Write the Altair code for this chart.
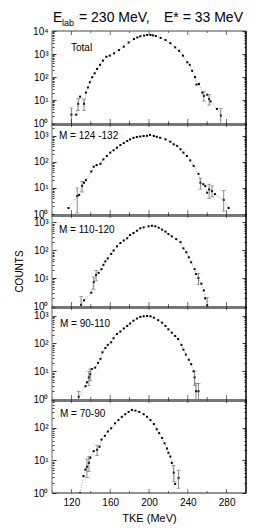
import altair as alt
import pandas as pd

FONT = "Liberation Sans"
W = 194
HEIGHTS = [92, 91, 92, 93, 94]
Y_MAX = [10000, 3160, 2000, 2240, 750]
GAP = 3  # separator band below each panel

DECADES = [1, 10, 100, 1000, 10000]
DECADE_LABELS = ["10\u2070", "10\u00b9", "10\u00b2", "10\u00b3", "10\u2074"]
MINOR_MULT = [2, 3, 4, 5, 6, 7, 8, 9]
X_MAJOR = [120, 160, 200, 240, 280]
X_MINOR = [100, 140, 180, 220, 260, 300]
X_DOMAIN = [100, 300]

PANEL_LABELS = ["Total", "M = 124 -132", "M = 110-120", "M = 90-110", "M = 70-90"]
LABEL_X = [19, 7, 7, 8, 8]
LABEL_Y = [20, 16, 19, 21, 18]

# ---- data (TKE in MeV, counts) ----
tke_total = [120, 125, 127, 129, 133, 135, 137, 139, 141.5, 144, 146.5, 149.5, 152.5, 156, 159.5,
             164, 169, 174, 179, 184.5, 188, 191, 195, 198, 201.5, 204, 207, 212, 217, 222, 227,
             231, 235, 239.5, 242, 244.5, 247.5, 249, 251.5, 255, 256.5, 260, 262, 263.5, 270, 274]
cnt_total = [2.3, 2.3, 6.8, 14, 6.8, 21, 35, 59, 98, 145, 224, 339, 513, 759, 851,
             1070, 1480, 2090, 3160, 4470, 5250, 5890, 6310, 6760, 6760, 6460, 6030, 5010, 4070, 2950, 1950,
             1380, 851, 437, 339, 186, 100, 47, 50, 21, 15, 17, 11, 8.7, 4.1, 2.1]
err_total_tke = [120, 127, 133, 256.5, 262, 274]
err_total_lo = [0.5, 3.5, 3.5, 9, 6, 0.5]
err_total_hi = [4.5, 12, 11, 24, 17, 4.2]

tke_m124 = [117, 126, 128, 131, 133, 135, 140.5, 143, 146, 150, 153, 156.5, 160, 163.5, 167,
            170.5, 174, 177.5, 180.5, 184, 187.5, 191, 194.5, 198, 201, 205, 208, 211.5, 217, 222,
            225.5, 229, 232.5, 235.5, 239, 242.5, 246, 251, 253, 256, 258, 260, 262, 265, 268, 277, 282]
cnt_m124 = [1.7, 4.9, 5.4, 12, 16, 20, 43, 66, 76, 85, 126, 170, 229, 282, 355,
            447, 537, 646, 741, 851, 912, 955, 1000, 1020, 1100, 1000, 933, 851, 741, 603,
            479, 417, 309, 229, 170, 115, 71, 35, 16, 14, 12, 6.6, 8.9, 7.6, 5.8, 3.5, 1.7]
err_m124_tke = [126, 131, 253, 262, 265, 277]
err_m124_lo = [1.1, 7, 9, 4, 4.5, 1.3]
err_m124_hi = [10, 18, 24, 14, 12, 8]

tke_m110 = [130, 133, 140.5, 143, 145.5, 148, 151, 153, 155, 157.5, 161, 163.5, 167, 170.5, 174,
            177.5, 180.5, 184, 187.5, 191, 194.5, 199.5, 203, 206.5, 210, 213.5, 217, 220, 223.5, 228,
            232.5, 235.5, 238.5, 241, 243.5, 247, 248.5, 251, 254, 256.5, 258, 260]
cnt_m110 = [1.1, 1.6, 3.0, 7.2, 13, 15.5, 21, 30, 40, 51, 74, 98, 138, 182, 224,
            269, 355, 417, 501, 617, 661, 724, 759, 724, 646, 550, 468, 380, 316, 251,
            195, 117, 85, 56, 37, 21, 14, 10, 6.3, 3.6, 1.9, 1.05]
err_m110_tke = [130, 143, 145.5, 251, 260]
err_m110_lo = [0.4, 4, 8, 6, 0.4]
err_m110_hi = [2.2, 11, 19, 15, 2]

tke_m90 = [127.5, 134.5, 136, 138, 139.5, 141, 144.5, 147.5, 150, 152, 155, 157.5, 161, 163.5, 167,
           170.5, 174, 177.5, 180.5, 184, 187.5, 191, 194.5, 198, 201.5, 205, 209.5, 213.5, 217, 220,
           223.5, 227, 230, 233.5, 235.5, 238, 241, 243.5, 246, 247, 248.5, 251]
cnt_m90 = [1.2, 2.9, 4.0, 6.0, 7.8, 12, 13.5, 20, 28, 48, 69, 89, 110, 155, 219,
           269, 347, 427, 525, 661, 794, 912, 955, 977, 955, 851, 692, 562, 427, 324,
           245, 186, 145, 89, 60, 40, 26, 18, 10, 6.0, 1.9, 1.9]
err_m90_tke = [127.5, 138, 139.5, 247, 248.5, 251]
err_m90_lo = [0.5, 3, 4.5, 3, 0.5, 0.5]
err_m90_hi = [1.9, 10, 12, 10, 3.6, 3.6]

tke_m70 = [129, 132.5, 134.5, 136, 138, 139.5, 143, 146.5, 149, 151, 154.5, 157.5, 161, 165, 168.5,
           172, 175.5, 179, 182.5, 186, 190, 194.5, 198, 201.5, 205, 208, 210.5, 213.5, 216, 218.5,
           220, 222, 223.5, 225.5, 227, 230.5]
cnt_m70 = [1.0, 3.3, 5.2, 6.3, 8.3, 12, 19, 21, 26, 43, 56, 76, 95, 135, 170,
           214, 257, 302, 347, 331, 302, 257, 214, 170, 129, 89, 68, 48, 33, 23,
           17, 13, 8.3, 4.2, 1.9, 2.9]
err_m70_tke = [136, 138, 146.5, 225.5, 230.5]
err_m70_lo = [3, 4.5, 14, 2.2, 1.4]
err_m70_hi = [11, 13, 29, 7, 5]

PANELS = [
    (tke_total, cnt_total, err_total_tke, err_total_lo, err_total_hi),
    (tke_m124, cnt_m124, err_m124_tke, err_m124_lo, err_m124_hi),
    (tke_m110, cnt_m110, err_m110_tke, err_m110_lo, err_m110_hi),
    (tke_m90, cnt_m90, err_m90_tke, err_m90_lo, err_m90_hi),
    (tke_m70, cnt_m70, err_m70_tke, err_m70_lo, err_m70_hi),
]

TITLE_PARTS = [
    ("E", 1, -9, 14),
    ("lab", 10, -5, 9),
    ("= 230 MeV,", 27, -9, 14),
    ("E* = 33 MeV", 112, -9, 14),
]

label_expr = ""
for d, lab in zip(DECADES, DECADE_LABELS):
    label_expr += f"datum.value == {d} ? '{lab}' : "
label_expr += "''"

y_tick_cond = {"condition": {"test": f"indexof({DECADES}, datum.value) >= 0", "value": 4}, "value": 2}
x_tick_df = pd.DataFrame({"v": X_MAJOR + X_MINOR, "len": [8] * len(X_MAJOR) + [4] * len(X_MINOR)})
one = pd.DataFrame({"a": [0]})


def frame_rule(color, width, **enc):
    return alt.Chart(one).mark_rule(color=color, strokeWidth=width).encode(**enc)


def make_panel(i):
    tke, cnt, etke, elo, ehi = PANELS[i]
    H = HEIGHTS[i]
    ymax = Y_MAX[i]
    first = i == 0
    last = i == len(PANELS) - 1
    ydec = [d for d in DECADES if d <= ymax]
    yall = sorted(ydec + [d * m for d in DECADES for m in MINOR_MULT if d * m <= ymax])

    xs = alt.Scale(domain=X_DOMAIN, nice=False, zero=False)
    ys = alt.Scale(type="log", domain=[1, ymax], nice=False)

    df = pd.DataFrame({"tke": tke, "cnt": cnt})
    edf = pd.DataFrame({"tke": etke, "lo": elo, "hi": ehi})
    cap_df = pd.DataFrame({"tke": etke + etke, "v": elo + ehi})

    x_lab = alt.Axis(orient="bottom", values=X_MAJOR, labels=last, ticks=False, domain=False,
                     grid=False, labelPadding=4, labelFontSize=10, labelColor="black",
                     title="TKE (MeV)" if last else None, titleFontSize=11,
                     titleFontWeight="normal", titlePadding=5, titleColor="black")
    y_lab = alt.Axis(orient="left", values=ydec, labelExpr=label_expr, ticks=False, domain=False,
                     grid=False, labelPadding=4, labelFontSize=10, labelColor="black",
                     title="COUNTS" if i == 2 else None, titleFontSize=10,
                     titleFontWeight="normal", titlePadding=8, titleY=H / 2 + 11,
                     titleColor="black")
    y_in_l = alt.Axis(orient="right", offset=-W, values=yall, labels=False, domain=False,
                      grid=False, title=None, tickSize=y_tick_cond, tickColor="black", tickWidth=0.8)
    y_in_r = alt.Axis(orient="left", offset=-W, values=yall, labels=False, domain=False,
                      grid=False, title=None, tickSize=y_tick_cond, tickColor="black", tickWidth=0.8)

    line = alt.Chart(df).mark_line(color="#8a8a8a", strokeWidth=0.8, strokeDash=[1, 1.5], clip=True).encode(
        x=alt.X("tke:Q", scale=xs, axis=x_lab),
        y=alt.Y("cnt:Q", scale=ys, axis=y_lab),
        order="tke:Q",
    )
    pts = alt.Chart(df).mark_square(color="black", size=4, opacity=1, clip=True).encode(
        x=alt.X("tke:Q", scale=xs),
        y=alt.Y("cnt:Q", scale=ys, axis=y_in_l),
    )
    rules = alt.Chart(edf).mark_rule(color="#555555", strokeWidth=0.7, clip=True).encode(
        x=alt.X("tke:Q", scale=xs),
        y=alt.Y("lo:Q", scale=ys, axis=y_in_r),
        y2="hi:Q",
    )
    caps = alt.Chart(cap_df).mark_tick(color="#555555", orient="horizontal", size=4, thickness=0.7,
                                       clip=True).encode(
        x=alt.X("tke:Q", scale=xs),
        y=alt.Y("v:Q", scale=ys, axis=None),
    )
    xt_top = alt.Chart(x_tick_df).mark_tick(color="black", orient="vertical", thickness=0.8, clip=True).encode(
        x=alt.X("v:Q", scale=xs),
        y=alt.value(0),
        size=alt.Size("len:Q", scale=None, legend=None),
    )
    xt_bot = alt.Chart(x_tick_df).mark_tick(color="black", orient="vertical", thickness=0.8, clip=True).encode(
        x=alt.X("v:Q", scale=xs),
        y=alt.value(H),
        size=alt.Size("len:Q", scale=None, legend=None),
    )
    lab = alt.Chart(pd.DataFrame({"t": [PANEL_LABELS[i]]})).mark_text(
        align="left", baseline="alphabetic", fontSize=10, font=FONT, color="black"
    ).encode(x=alt.value(LABEL_X[i]), y=alt.value(LABEL_Y[i]), text="t:N")

    ext = 0 if last else GAP
    frames = [
        frame_rule("#666666", 1, x=alt.value(0), y=alt.value(0), y2=alt.value(H + ext)),
        frame_rule("#111111", 1.6, x=alt.value(W), y=alt.value(0), y2=alt.value(H + ext)),
    ]
    if first:
        frames.append(frame_rule("#444444", 1, x=alt.value(0), x2=alt.value(W), y=alt.value(0)))
    if last:
        frames.append(frame_rule("#222222", 1, x=alt.value(0), x2=alt.value(W), y=alt.value(H)))
    else:
        frames.append(frame_rule("#777777", GAP, x=alt.value(0), x2=alt.value(W), y=alt.value(H + GAP / 2)))

    layers = [line, pts, rules, caps, xt_top, xt_bot, lab] + frames
    if first:
        for txt, tx, ty, fs in TITLE_PARTS:
            layers.append(
                alt.Chart(pd.DataFrame({"t": [txt]})).mark_text(
                    align="left", baseline="alphabetic", fontSize=fs, font=FONT, color="black"
                ).encode(x=alt.value(tx), y=alt.value(ty), text="t:N")
            )
    return alt.layer(*layers).resolve_axis(y="independent").properties(width=W, height=H)


chart = alt.vconcat(*[make_panel(i) for i in range(len(PANELS))], spacing=0, bounds="flush").configure(
    font=FONT, padding={"left": 6, "top": 3, "right": 5, "bottom": 5}
).configure_view(stroke=None).configure_axis(
    labelFont=FONT, titleFont=FONT
)

chart.save("out.html", embed_options={"renderer": "svg", "actions": False})
